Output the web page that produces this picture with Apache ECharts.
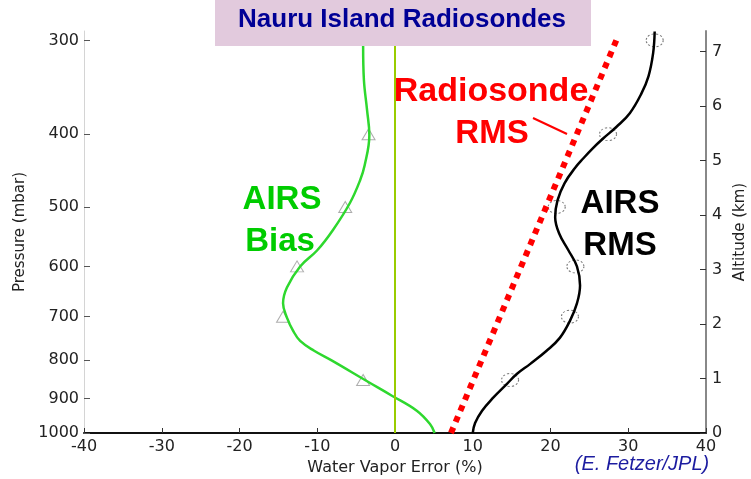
<!DOCTYPE html>
<html>
<head>
<meta charset="utf-8">
<script src="https://cdn.jsdelivr.net/npm/echarts@6/dist/echarts.min.js"></script>
<style>
  html, body { margin: 0; padding: 0; background: #ffffff; }
  #chart { width: 751px; height: 479px; }
</style>
</head>
<body>
<div id="chart"></div>
<script>
// Axis ticks
const errorTicks = [-40, -30, -20, -10, 0, 10, 20, 30, 40];
const pressureTicks = [300, 400, 500, 600, 700, 800, 900, 1000];
const altitudeTicks = [0, 1, 2, 3, 4, 5, 6, 7];
const pressureRange = [291.5, 1000];
const altitudeRange = [0, 7.38];

// AIRS bias profile (mbar, %)
const biasPressure = [292, 305, 338.5, 371, 401, 440, 461, 494, 537, 571, 600, 640, 672, 702, 731, 754, 777, 801, 852, 892, 934, 973, 1000];
const biasValue    = [-4.1, -4.1, -4.0, -3.6, -3.3, -3.9, -4.5, -5.8, -8.0, -10.0, -12.2, -13.9, -14.4, -13.9, -13.1, -12.2, -10.4, -8.1, -3.7, -0.4, 2.8, 4.5, 5.1];
const biasMarkPressure = [400, 500, 600, 700, 850];
const biasMarkValue    = [-3.4, -6.4, -12.6, -14.4, -4.1];

// AIRS RMS profile (mbar, %)
const rmsPressure = [292, 312, 335, 353, 375, 391, 405, 418, 431, 443, 465, 490, 516, 542, 571, 600, 636, 672, 709, 747, 777, 809, 834, 860, 898, 934, 970, 1000];
const rmsValue    = [33.4, 33.2, 32.6, 31.7, 30.2, 28.5, 26.8, 25.4, 24.2, 23.2, 21.8, 20.9, 20.6, 21.1, 22.3, 23.4, 23.8, 23.4, 22.5, 21.2, 19.5, 17.4, 15.7, 14.4, 12.6, 11.2, 10.3, 10.0];
const rmsMarkPressure = [300, 400, 500, 600, 700, 850];
const rmsMarkValue    = [33.4, 27.4, 20.8, 23.2, 22.5, 14.8];

// Radiosonde RMS (mbar, %)
const sondePressure = [1000, 296];
const sondeValue    = [7.2, 28.7];

const lg = p => Math.log10(p);
const pairs = (vals, pres) => vals.map((v, i) => [v, lg(pres[i])]);

const tickFont = 'DejaVu Sans';
const boldFont = '"Liberation Sans", Arial, Helvetica, sans-serif';

const chart = echarts.init(document.getElementById('chart'), null, { renderer: 'canvas' });

chart.setOption({
  animation: false,
  backgroundColor: '#ffffff',
  grid: { left: 84, right: 45, top: 31, bottom: 46, containLabel: false, outerBoundsMode: 'none' },
  xAxis: {
    type: 'value',
    min: errorTicks[0], max: errorTicks[errorTicks.length - 1], interval: 10,
    position: 'bottom',
    name: 'Water Vapor Error (%)',
    nameLocation: 'middle',
    nameGap: 25,
    nameTextStyle: { fontFamily: tickFont, fontSize: 16, color: '#222' },
    axisLine: { show: true, onZero: false, lineStyle: { color: '#111', width: 2 } },
    axisTick: { show: true, inside: true, length: 5, lineStyle: { color: '#333', width: 1 } },
    axisLabel: { fontFamily: tickFont, fontSize: 16, color: '#222', margin: 6 },
    splitLine: { show: false }
  },
  yAxis: [
    {
      type: 'value',
      min: lg(pressureRange[0]), max: lg(pressureRange[1]),
      inverse: true,
      position: 'left',
      name: 'Pressure (mbar)',
      nameLocation: 'middle',
      nameRotate: 90,
      nameGap: 52,
      nameTextStyle: { fontFamily: tickFont, fontSize: 15, color: '#222' },
      axisLine: { show: true, onZero: false, lineStyle: { color: '#d4d4d4', width: 1 } },
      axisTick: { show: true, inside: true, length: 6, customValues: pressureTicks.map(lg), lineStyle: { color: '#555', width: 1 } },
      axisLabel: {
        customValues: pressureTicks.map(lg),
        fontFamily: tickFont, fontSize: 16, color: '#222', margin: 5,
        formatter: v => String(Math.round(Math.pow(10, v)))
      },
      splitLine: { show: false }
    },
    {
      type: 'value',
      min: altitudeRange[0], max: altitudeRange[1],
      position: 'right',
      name: 'Altitude (km)',
      nameLocation: 'middle',
      nameRotate: 90,
      nameGap: 25,
      nameTextStyle: { fontFamily: tickFont, fontSize: 15, color: '#222' },
      axisLine: { show: true, onZero: false, lineStyle: { color: '#888', width: 2 } },
      axisTick: { show: true, inside: true, length: 6, customValues: altitudeTicks, lineStyle: { color: '#333', width: 1 } },
      axisLabel: { customValues: altitudeTicks, fontFamily: tickFont, fontSize: 16, color: '#222', margin: 6 },
      splitLine: { show: false }
    }
  ],
  series: [
    {
      name: 'Radiosonde RMS',
      type: 'line',
      yAxisIndex: 0,
      data: pairs(sondeValue, sondePressure),
      showSymbol: false,
      lineStyle: { color: '#ff0000', width: 6, type: [6, 6], cap: 'butt' },
      z: 3
    },
    {
      name: 'AIRS Bias markers',
      type: 'scatter',
      yAxisIndex: 0,
      data: pairs(biasMarkValue, biasMarkPressure),
      symbol: 'triangle',
      symbolSize: [13, 11],
      itemStyle: { color: 'rgba(255,255,255,0)', borderColor: '#999', borderWidth: 1 },
      markLine: {
        silent: true,
        symbol: 'none',
        label: { show: false },
        lineStyle: { color: '#99cc00', width: 2, type: 'solid' },
        data: [{ xAxis: 0 }]
      },
      z: 2
    },
    {
      name: 'AIRS Bias',
      type: 'line',
      yAxisIndex: 0,
      data: pairs(biasValue, biasPressure),
      smooth: 0.4,
      showSymbol: false,
      lineStyle: { color: '#2ed82e', width: 2.5 },
      z: 4
    },
    {
      name: 'AIRS RMS markers',
      type: 'scatter',
      yAxisIndex: 0,
      data: pairs(rmsMarkValue, rmsMarkPressure),
      symbol: 'circle',
      symbolSize: [17, 13],
      itemStyle: { color: 'rgba(255,255,255,0)', borderColor: '#555', borderWidth: 1, borderType: [2, 2] },
      z: 2
    },
    {
      name: 'AIRS RMS',
      type: 'line',
      yAxisIndex: 0,
      data: pairs(rmsValue, rmsPressure),
      smooth: 0.4,
      showSymbol: false,
      lineStyle: { color: '#000000', width: 2.5 },
      z: 4
    }
  ],
  graphic: [
    { type: 'rect', z: 100, shape: { x: 215, y: 0, width: 376, height: 46 }, style: { fill: '#e2cadd' } },
    { type: 'text', z: 101, x: 402, y: 20, style: { text: 'Nauru Island Radiosondes', font: 'bold 26px ' + boldFont, fill: '#000096', textAlign: 'center', textVerticalAlign: 'middle' } },
    { type: 'text', z: 101, x: 491, y: 92, style: { text: 'Radiosonde', font: 'bold 34px ' + boldFont, fill: '#ff0000', textAlign: 'center', textVerticalAlign: 'middle' } },
    { type: 'text', z: 101, x: 492, y: 134, style: { text: 'RMS', font: 'bold 33px ' + boldFont, fill: '#ff0000', textAlign: 'center', textVerticalAlign: 'middle' } },
    { type: 'line', z: 101, shape: { x1: 533, y1: 118, x2: 567, y2: 134 }, style: { stroke: '#ff0000', lineWidth: 2 } },
    { type: 'text', z: 101, x: 620, y: 204, style: { text: 'AIRS', font: 'bold 33px ' + boldFont, fill: '#000000', textAlign: 'center', textVerticalAlign: 'middle' } },
    { type: 'text', z: 101, x: 620, y: 246, style: { text: 'RMS', font: 'bold 33px ' + boldFont, fill: '#000000', textAlign: 'center', textVerticalAlign: 'middle' } },
    { type: 'text', z: 101, x: 282, y: 200, style: { text: 'AIRS', font: 'bold 33px ' + boldFont, fill: '#00cc00', textAlign: 'center', textVerticalAlign: 'middle' } },
    { type: 'text', z: 101, x: 280, y: 242, style: { text: 'Bias', font: 'bold 33px ' + boldFont, fill: '#00cc00', textAlign: 'center', textVerticalAlign: 'middle' } },
    { type: 'text', z: 101, x: 642, y: 464, style: { text: '(E. Fetzer/JPL)', font: 'italic 20px ' + boldFont, fill: '#1c1ca0', textAlign: 'center', textVerticalAlign: 'middle' } }
  ]
});
</script>
</body>
</html>
